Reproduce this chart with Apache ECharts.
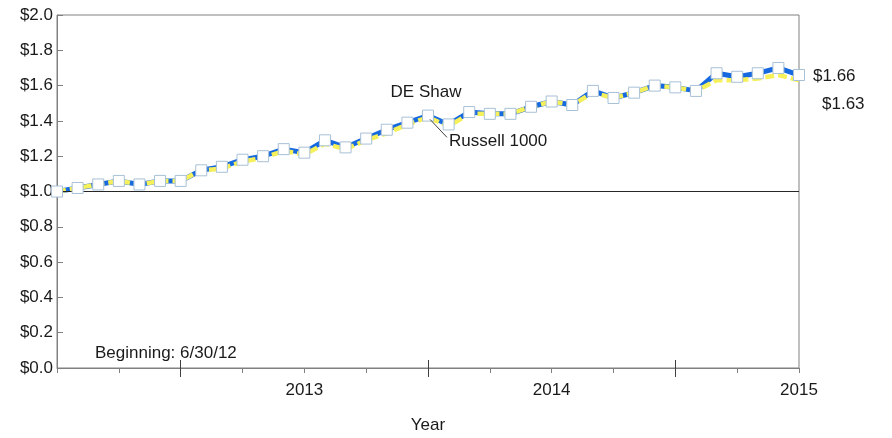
<!DOCTYPE html>
<html><head><meta charset="utf-8">
<script src="https://cdn.jsdelivr.net/npm/echarts@6/dist/echarts.min.js"></script>
<style>html,body{margin:0;padding:0;background:#fff}#c{width:892px;height:438px}</style>
</head><body><div id="c"></div>
<script>
// Month-end observations, 6/30/12 .. 6/30/15
const months = ['Jun-12','Jul-12','Aug-12','Sep-12','Oct-12','Nov-12','Dec-12',
  'Jan-13','Feb-13','Mar-13','Apr-13','May-13','Jun-13','Jul-13','Aug-13','Sep-13','Oct-13','Nov-13','Dec-13',
  'Jan-14','Feb-14','Mar-14','Apr-14','May-14','Jun-14','Jul-14','Aug-14','Sep-14','Oct-14','Nov-14','Dec-14',
  'Jan-15','Feb-15','Mar-15','Apr-15','May-15','Jun-15'];
const deShaw = [1.00,1.02,1.04,1.06,1.04,1.06,1.06,
  1.12,1.14,1.18,1.20,1.24,1.22,1.29,1.25,1.30,1.35,1.39,1.43,
  1.38,1.45,1.44,1.44,1.48,1.51,1.49,1.57,1.53,1.56,1.60,1.59,
  1.57,1.67,1.65,1.67,1.70,1.66];
const russell = [1.00,1.02,1.04,1.06,1.04,1.06,1.06,
  1.12,1.13,1.17,1.19,1.23,1.21,1.27,1.24,1.29,1.33,1.38,1.42,
  1.37,1.44,1.44,1.44,1.48,1.51,1.49,1.56,1.53,1.56,1.60,1.59,
  1.57,1.63,1.63,1.64,1.66,1.63];
const seriesNames = ['DE Shaw','Russell 1000'];
const yearLabels = ['2013','2014','2015'];
const beginningText = 'Beginning: 6/30/12';
const xAxisName = 'Year';

const FONT = "'Liberation Sans', Arial, sans-serif";
const FS = 17;
const TXT = '#1a1a1a';
const AX = '#808080';
const last = months.length - 1;
const toPts = arr => arr.map((v, i) => [i, v]);
const quarterTicks = months.map((m, i) => /^(Mar|Jun|Sep|Dec)/.test(m) ? i : -1).filter(i => i >= 0);
const yearEndTicks = months.map((m, i) => /^Dec/.test(m) ? i : -1).filter(i => i >= 0);
const yearLabelIdx = yearLabels.map(y => months.indexOf('Jun-' + y.slice(2)));

const baseX = {
  type: 'value', min: 0, max: last, interval: 3, position: 'bottom',
  splitLine: {show: false}
};

const chart = echarts.init(document.getElementById('c'), null, {renderer: 'canvas'});
chart.setOption({
  animation: false,
  backgroundColor: '#fff',
  textStyle: {fontFamily: FONT},
  grid: {left: 57, right: 93, top: 15, bottom: 70, show: true, borderColor: AX, borderWidth: 1,
         backgroundColor: 'transparent', containLabel: false, outerBoundsMode: 'none'},
  xAxis: [
    Object.assign({}, baseX, {
      name: xAxisName, nameLocation: 'middle', nameGap: 49,
      nameTextStyle: {color: TXT, fontSize: FS, fontFamily: FONT},
      axisLine: {show: true, lineStyle: {color: AX, width: 1}},
      axisTick: {show: true, inside: false, length: 5, customValues: quarterTicks, lineStyle: {color: AX}},
      axisLabel: {show: true, margin: 14, color: TXT, fontSize: FS, fontFamily: FONT,
        customValues: yearLabelIdx,
        formatter: v => yearLabels[yearLabelIdx.indexOf(v)] || ''}
    }),
    Object.assign({}, baseX, {
      axisLine: {show: false}, axisLabel: {show: false},
      axisTick: {show: true, inside: false, length: 9, customValues: yearEndTicks, lineStyle: {color: '#404040'}}
    }),
    Object.assign({}, baseX, {
      axisLine: {show: false}, axisLabel: {show: false},
      axisTick: {show: true, inside: true, length: 8, customValues: yearEndTicks, lineStyle: {color: '#404040'}}
    })
  ],
  yAxis: {
    type: 'value', min: 0, max: 2, interval: 0.2,
    splitLine: {show: false},
    axisLine: {show: true, lineStyle: {color: AX, width: 1}},
    axisTick: {show: true, inside: true, length: 6, lineStyle: {color: AX}},
    axisLabel: {margin: 4, color: TXT, fontSize: FS, fontFamily: FONT, formatter: v => '$' + v.toFixed(1)}
  },
  series: [
    {
      name: seriesNames[0], type: 'line', data: toPts(deShaw), z: 3,
      symbol: 'none', lineStyle: {color: '#1769e0', width: 5}, itemStyle: {color: '#1769e0'},
      endLabel: {show: true, formatter: '$' + deShaw[last].toFixed(2), color: TXT, fontSize: FS,
                 fontFamily: FONT, distance: 14, offset: [0, 1]},
      markLine: {silent: true, symbol: 'none', label: {show: false},
                 lineStyle: {color: '#262626', width: 1, type: 'solid'}, data: [{yAxis: 1}]}
    },
    {
      name: seriesNames[1], type: 'line', data: toPts(russell), z: 4,
      symbol: 'none', lineStyle: {color: '#f6f15a', width: 4.5, type: [9, 4]}, itemStyle: {color: '#f6f15a'},
      endLabel: {show: true, formatter: '$' + russell[last].toFixed(2), color: TXT, fontSize: FS,
                 fontFamily: FONT, distance: 14, offset: [9, 24]}
    },
    {
      name: seriesNames[0] + ' markers', type: 'line', data: toPts(deShaw), z: 5,
      symbol: 'rect', symbolSize: 11, showAllSymbol: true,
      lineStyle: {width: 0, opacity: 0},
      itemStyle: {color: '#ffffff', borderColor: '#a8c0d6', borderWidth: 1}
    }
  ]
});

// Annotations anchored to the Dec-13 peak through the chart's own scales
const peakIdx = months.indexOf('Dec-13');
const pD = chart.convertToPixel({gridIndex: 0}, [peakIdx, deShaw[peakIdx]]);
const pR = chart.convertToPixel({gridIndex: 0}, [peakIdx, russell[peakIdx]]);
const origin = chart.convertToPixel({gridIndex: 0}, [0, 0]);
chart.setOption({
  graphic: [
    {type: 'text', x: pD[0] - 2, y: pD[1] - 23, z: 10,
     style: {text: seriesNames[0], fill: TXT, font: FS + 'px ' + FONT, textAlign: 'center', textVerticalAlign: 'middle'}},
    {type: 'line', z: 10, shape: {x1: pR[0] + 2, y1: pR[1] + 2, x2: pR[0] + 19, y2: pR[1] + 20},
     style: {stroke: '#404040', lineWidth: 1}},
    {type: 'text', x: pR[0] + 21, y: pR[1] + 24, z: 10,
     style: {text: seriesNames[1], fill: TXT, font: FS + 'px ' + FONT, textAlign: 'left', textVerticalAlign: 'middle'}},
    {type: 'text', x: origin[0] + 38, y: origin[1] - 15, z: 10,
     style: {text: beginningText, fill: TXT, font: FS + 'px ' + FONT, textAlign: 'left', textVerticalAlign: 'middle'}}
  ]
});
</script>
</body></html>
